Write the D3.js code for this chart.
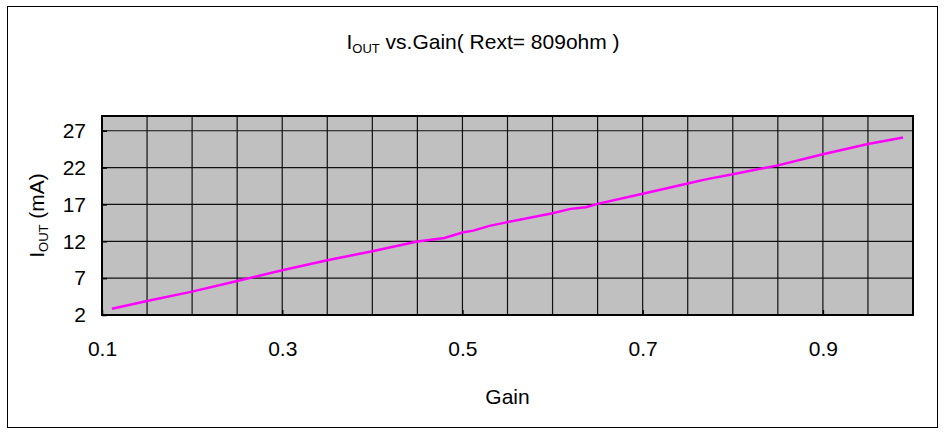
<!DOCTYPE html>
<html>
<head>
<meta charset="utf-8">
<script src="https://cdn.jsdelivr.net/npm/d3@7"></script>
<style>
  body { margin: 0; background: #fff; }
  text { font-family: "Liberation Sans", Arial, sans-serif; fill: #000; }
</style>
</head>
<body>
<div id="chart"></div>
<script>
// data
const gain = [0.111, 0.15, 0.2, 0.25, 0.3, 0.35, 0.4, 0.45, 0.48, 0.5, 0.512, 0.53, 0.55,
    0.6, 0.62, 0.637, 0.65, 0.7, 0.75, 0.77, 0.8, 0.85, 0.9, 0.95, 0.989]
const iout = [2.86, 3.9, 5.17, 6.62, 8.07, 9.43, 10.65, 11.96, 12.46, 13.2, 13.45, 14.09, 14.6,
    15.8, 16.4, 16.63, 17.08, 18.44, 19.84, 20.4, 21.1, 22.3, 23.8, 25.2, 26.09]
const yTicks = [2, 7, 12, 17, 22, 27]
const xLabels = [0.1, 0.3, 0.5, 0.7, 0.9]
const xGrid = d3.range(0, 19).map(i => +(0.1 + i * 0.05).toFixed(2))

const W = 944, H = 434
const margin = { top: 116, right: 31, bottom: 119, left: 102 },
    width = W - margin.left - margin.right,
    height = H - margin.top - margin.bottom

const svg = d3.select('#chart')
    .append('svg')
    .attr('width', W)
    .attr('height', H)

// outer frame
svg.append('rect')
    .attr('x', 7.5).attr('y', 6.5)
    .attr('width', 930).attr('height', 421)
    .attr('fill', 'none')
    .attr('stroke', '#000')
    .attr('stroke-width', 1)

const g = svg.append('g')
    .attr('transform', 'translate(' + margin.left + ',' + margin.top + ')')

const x = d3.scaleLinear().domain([0.1, 1.0]).range([0, width])
const y = d3.scaleLinear().domain([2, 29]).range([height, 0])

// plot background
g.append('rect')
    .attr('width', width).attr('height', height)
    .attr('fill', '#c0c0c0')

// grid
g.selectAll('.vgrid').data(xGrid.slice(1))
    .enter().append('line')
    .attr('x1', d => x(d)).attr('x2', d => x(d))
    .attr('y1', 0).attr('y2', height)
    .attr('stroke', '#111').attr('stroke-width', 1.2)
g.selectAll('.hgrid').data(yTicks.slice(1))
    .enter().append('line')
    .attr('x1', 0).attr('x2', width)
    .attr('y1', d => y(d)).attr('y2', d => y(d))
    .attr('stroke', '#111').attr('stroke-width', 1.2)

// the line
g.append('path')
    .datum(gain.map((d, i) => ({ g: d, v: iout[i] })))
    .attr('fill', 'none')
    .attr('stroke', '#ff00ff')
    .attr('stroke-width', 2.5)
    .attr('d', d3.line().x(d => x(d.g)).y(d => y(d.v)))

// plot border
g.append('rect')
    .attr('width', width).attr('height', height)
    .attr('fill', 'none')
    .attr('stroke', '#000')
    .attr('stroke-width', 2)

// axes
const xAxis = g.append('g')
    .attr('transform', 'translate(0,' + height + ')')
    .call(d3.axisBottom(x).tickValues(xLabels).tickSize(-5).tickPadding(26)
        .tickFormat(d3.format('.1f')))
xAxis.select('.domain').remove()
xAxis.selectAll('line').attr('stroke', '#000').attr('stroke-width', 1.5)
xAxis.selectAll('text').attr('font-size', 21)

const yAxis = g.append('g')
    .call(d3.axisLeft(y).tickValues(yTicks).tickSize(-5).tickPadding(16))
yAxis.select('.domain').remove()
yAxis.selectAll('line').attr('stroke', '#000').attr('stroke-width', 1.5)
yAxis.selectAll('text').attr('font-size', 21)

// titles
const title = svg.append('text')
    .attr('x', 483).attr('y', 49)
    .attr('text-anchor', 'middle')
    .attr('font-size', 21)
title.append('tspan').text('I')
title.append('tspan').attr('font-size', 13).attr('dy', 4).text('OUT')
title.append('tspan').attr('dy', -4).text(' vs.Gain( Rext= 809ohm )')

svg.append('text')
    .attr('x', margin.left + width / 2).attr('y', 404)
    .attr('text-anchor', 'middle')
    .attr('font-size', 21)
    .text('Gain')

const ylab = svg.append('text')
    .attr('transform', 'translate(44,' + (margin.top + height / 2) + ') rotate(-90)')
    .attr('text-anchor', 'middle')
    .attr('font-size', 21)
ylab.append('tspan').text('I')
ylab.append('tspan').attr('font-size', 13).attr('dy', 4).text('OUT')
ylab.append('tspan').attr('dy', -4).text(' (mA)')
</script>
</body>
</html>
